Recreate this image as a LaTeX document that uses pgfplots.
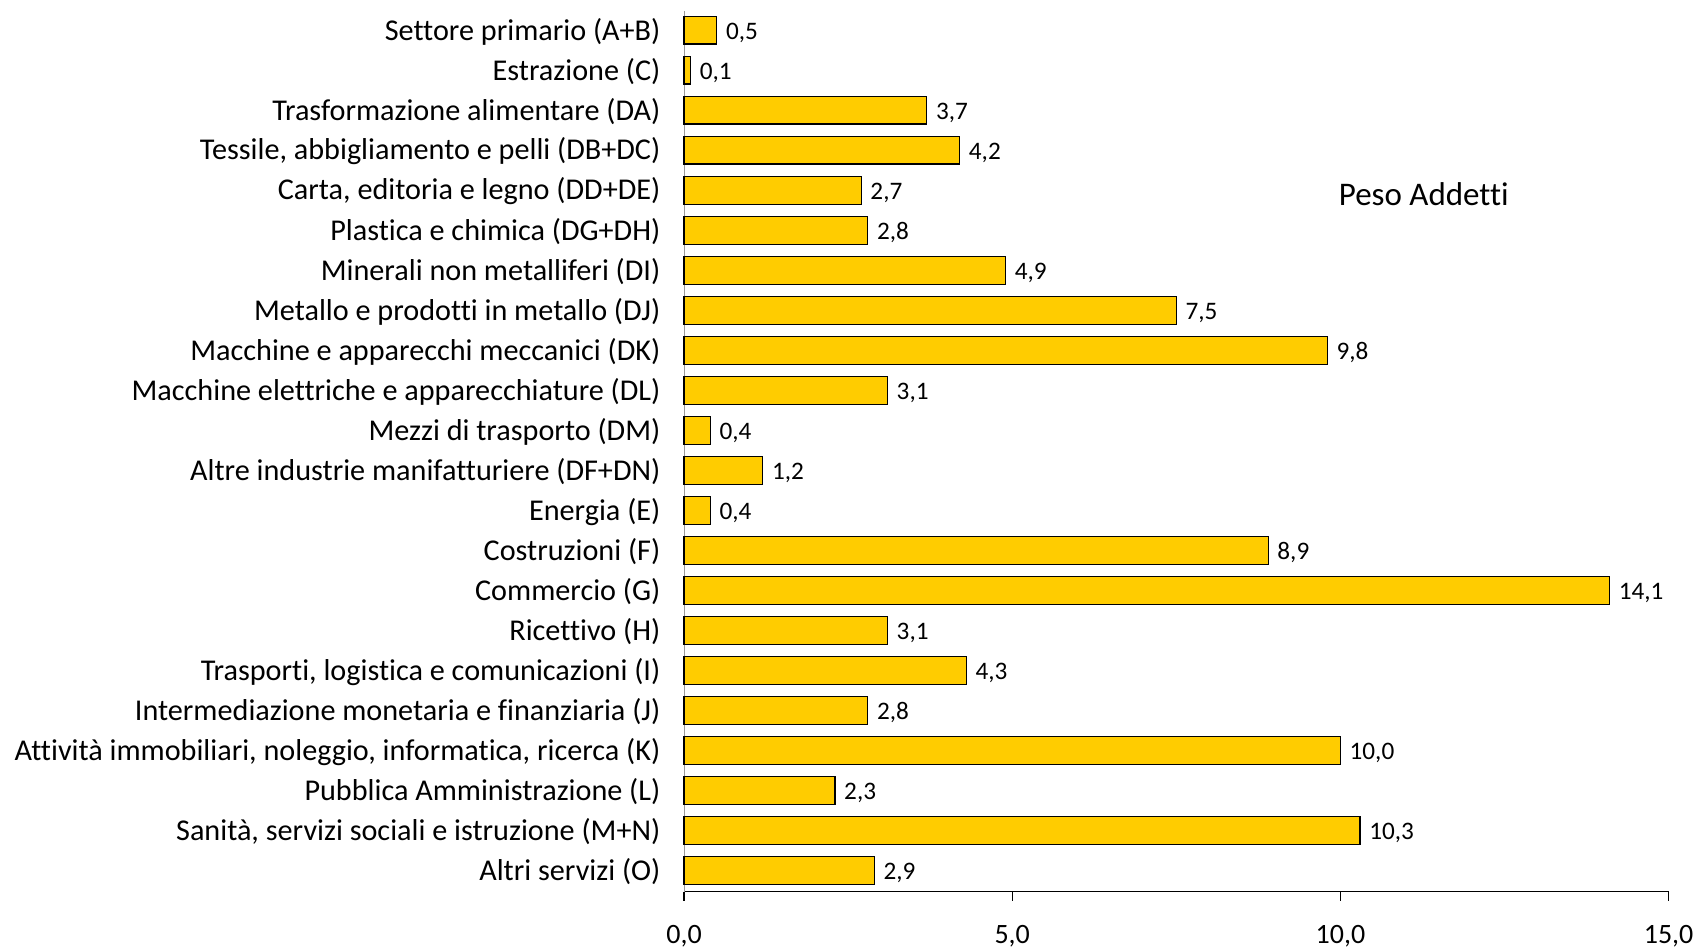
\documentclass[border=0pt]{standalone}
\usepackage{pgfplots}
\pgfplotsset{compat=1.18}
\usepackage{fontspec}
\setmainfont{Carlito}[Ligatures={NoCommon}]
\definecolor{baryellow}{HTML}{FFCC00}
\begin{document}
\begin{tikzpicture}
\useasboundingbox (0,0) rectangle (849.5pt,476pt);
\begin{axis}[
  at={(342pt,30.25pt)}, anchor=south west,
  scale only axis,
  width=492.3pt, height=440.25pt,
  xbar, bar width=13.8pt,
  xmin=0, xmax=15,
  ymin=-0.48, ymax=21.52,
  y dir=reverse,
  axis x line*=bottom,
  axis y line*=left,
  y axis line style={draw=gray!80},
  x axis line style={draw=black, line width=0.6pt},
  xtick={0,5,10,15},
  xtick style={draw=black, line width=0.6pt},
  tick align=outside,
  major tick length=4.5pt,
  ytick={0,...,21},
  ytick style={draw=none},
  yticklabels={
    {Settore primario (A+B)},
    {Estrazione (C)},
    {Trasformazione alimentare (DA)},
    {Tessile, abbigliamento e pelli (DB+DC)},
    {Carta, editoria e legno (DD+DE)},
    {Plastica e chimica (DG+DH)},
    {Minerali non metalliferi (DI)},
    {Metallo e prodotti in metallo (DJ)},
    {Macchine e apparecchi meccanici (DK)},
    {Macchine elettriche e apparecchiature (DL)},
    {Mezzi di trasporto (DM)},
    {Altre industrie manifatturiere (DF+DN)},
    {Energia (E)},
    {Costruzioni (F)},
    {Commercio (G)},
    {Ricettivo (H)},
    {Trasporti, logistica e comunicazioni (I)},
    {Intermediazione monetaria e finanziaria (J)},
    {Attività immobiliari, noleggio, informatica, ricerca (K)},
    {Pubblica Amministrazione (L)},
    {Sanità, servizi sociali e istruzione (M+N)},
    {Altri servizi (O)}},
  yticklabel style={font=\fontsize{15.1}{17}\selectfont, anchor=east, xshift=-3.8pt, yshift=-0.6pt},
  xticklabel style={font=\fontsize{14}{16}\selectfont, yshift=-9pt},
  /pgf/number format/assume math mode=true,
  xticklabel={\pgfmathprintnumber[fixed,fixed zerofill,precision=1,use comma]{\tick}},
  nodes near coords={\pgfmathprintnumber[fixed,fixed zerofill,precision=1,use comma]{\pgfplotspointmeta}},
  point meta=x,
  nodes near coords style={font=\fontsize{12.6}{14}\selectfont, anchor=west, xshift=1pt, yshift=-1.2pt},
  clip=false,
]
\addplot[fill=baryellow, draw=black, line width=0.6pt] coordinates {
  (0.5,0) (0.1,1) (3.7,2) (4.2,3) (2.7,4) (2.8,5) (4.9,6) (7.5,7)
  (9.8,8) (3.1,9) (0.4,10) (1.2,11) (0.4,12) (8.9,13) (14.1,14) (3.1,15)
  (4.3,16) (2.8,17) (10.0,18) (2.3,19) (10.3,20) (2.9,21)
};
\node[font=\fontsize{16.5}{19}\selectfont] at (axis cs:11.27,4.1) {Peso Addetti};
\end{axis}
\end{tikzpicture}
\end{document}
